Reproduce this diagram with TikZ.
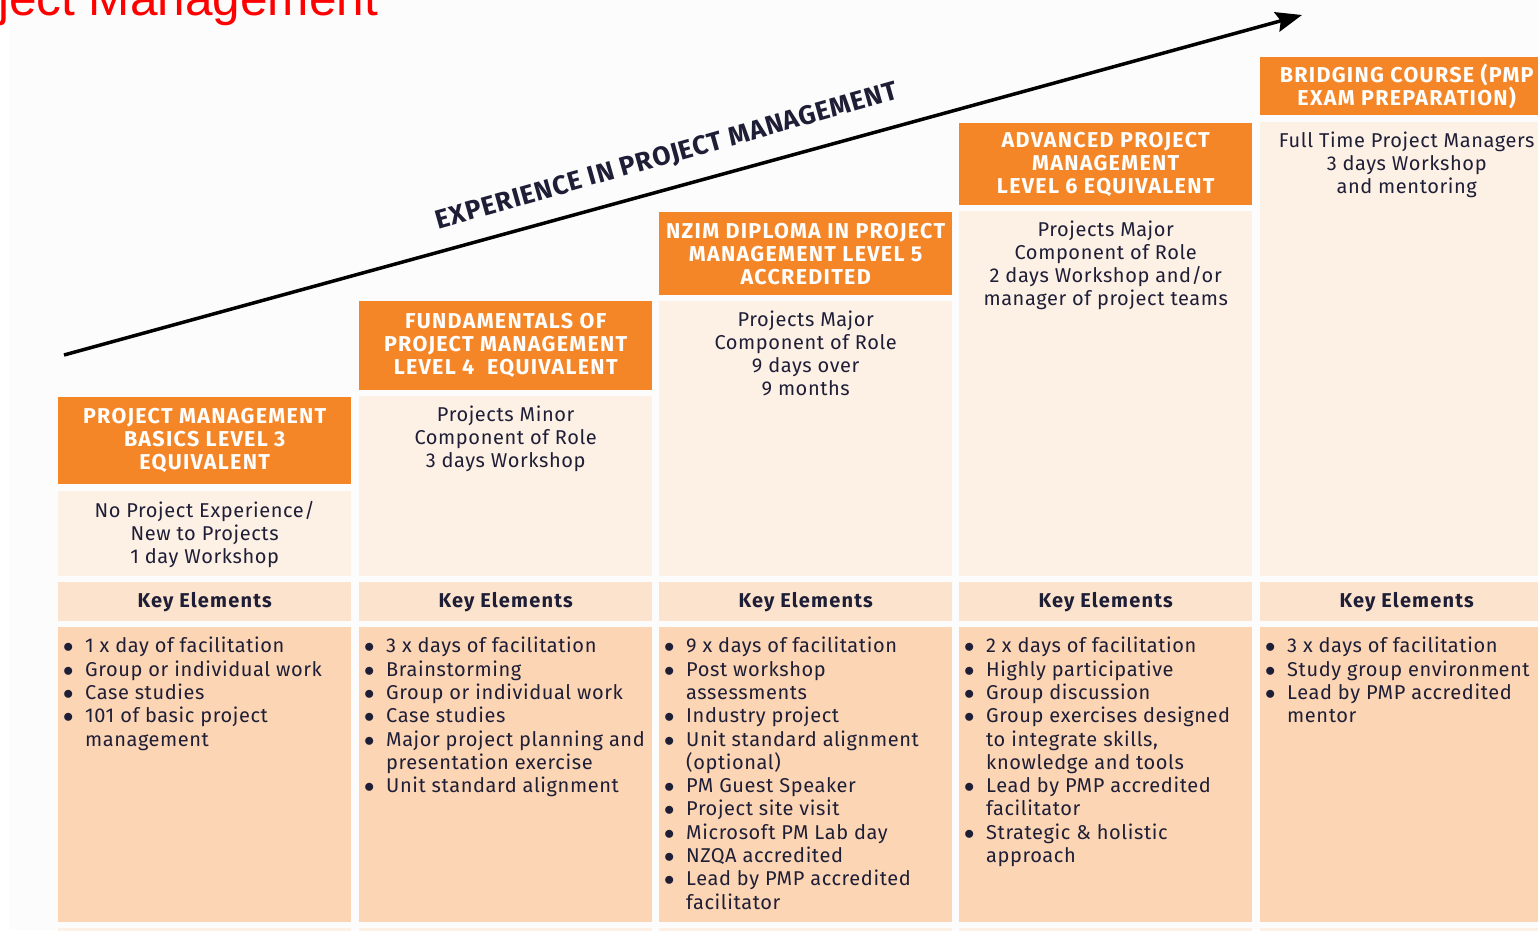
\documentclass[tikz,border=0pt]{standalone}
\usepackage{fontspec}
\setmainfont{Fira Sans}[LetterSpace=3]
\newfontfamily\widefont{Fira Sans}[LetterSpace=6]
\newfontfamily\titlefont{Liberation Sans}
\usetikzlibrary{arrows.meta}

\definecolor{headorange}{RGB}{245,134,40}
\definecolor{summarypeach}{RGB}{253,240,229}
\definecolor{keypeach}{RGB}{252,227,205}
\definecolor{itempeach}{RGB}{252,213,180}
\definecolor{inkblue}{RGB}{30,30,55}
\definecolor{pagegray}{RGB}{252,252,252}

\newcommand{\itm}[1]{\makebox[22pt][l]{$\bullet$}#1}
\newcommand{\cnt}[1]{\hspace*{22pt}#1}

\begin{document}
\begin{tikzpicture}[x=1pt, y=-1pt,
    heading/.style ={rectangle, fill=headorange, text=white, font=\widefont\fontsize{21.5}{23}\selectfont\bfseries, align=center, inner sep=0pt, minimum width=293pt, anchor=north west},
    summary/.style ={rectangle, fill=summarypeach, inner sep=0pt, minimum width=293pt, anchor=north west},
    summarytext/.style ={text=inkblue, font=\fontsize{20}{23}\selectfont, align=center, inner sep=0pt, anchor=north},
    keyband/.style ={rectangle, fill=keypeach, text=inkblue, font=\widefont\fontsize{20}{23}\selectfont\bfseries, inner sep=0pt, minimum width=293pt, minimum height=39pt, anchor=north west},
    itembox/.style ={rectangle, fill=itempeach, inner sep=0pt, minimum width=293pt, minimum height=295pt, anchor=north west},
    itemtext/.style ={text=inkblue, font=\fontsize{20}{23.3}\selectfont, align=left, inner sep=0pt, anchor=north west}]
   \useasboundingbox (0,0) rectangle (1538,930);
   \fill[pagegray] (9,0) rectangle (1538,930);

   \node[text=red, font=\titlefont\fontsize{49.5}{52}\selectfont, inner sep=0pt, anchor=base west] (title) at (-2,15) {ject Management};

   % level 3
   \node[heading, minimum height=87pt] (h1) at (58,397) {PROJECT MANAGEMENT\\BASICS LEVEL 3\\EQUIVALENT};
   \node[summary, minimum height=85pt] (s1) at (58,491) {};
   \node[summarytext] (t1) at ([yshift=-10pt]s1.north) {No Project Experience/\\New to Projects\\1 day Workshop};
   \node[keyband] (k1) at (58,582) {Key Elements};
   \node[itembox] (b1) at (58,627) {};
   \node[itemtext] (l1) at ([xshift=5pt,yshift=-10pt]b1.north west) {\itm{1 x day of facilitation}\\\itm{Group or individual work}\\\itm{Case studies}\\\itm{101 of basic project}\\\cnt{management}};

   % level 4
   \node[heading, minimum height=89pt] (h2) at (359,301) {FUNDAMENTALS OF\\PROJECT MANAGEMENT\\LEVEL 4~ EQUIVALENT};
   \node[summary, minimum height=180pt] (s2) at (359,396) {};
   \node[summarytext] (t2) at ([yshift=-10pt]s2.north) {Projects Minor\\Component of Role\\3 days Workshop};
   \node[keyband] (k2) at (359,582) {Key Elements};
   \node[itembox] (b2) at (359,627) {};
   \node[itemtext] (l2) at ([xshift=5pt,yshift=-10pt]b2.north west) {\itm{3 x days of facilitation}\\\itm{Brainstorming}\\\itm{Group or individual work}\\\itm{Case studies}\\\itm{Major project planning and}\\\cnt{presentation exercise}\\\itm{Unit standard alignment}};

   % level 5
   \node[heading, minimum height=83pt] (h3) at (659,212) {NZIM DIPLOMA IN PROJECT\\MANAGEMENT LEVEL 5\\ACCREDITED};
   \node[summary, minimum height=275pt] (s3) at (659,301) {};
   \node[summarytext] (t3) at ([yshift=-10pt]s3.north) {Projects Major\\Component of Role\\9 days over\\9 months};
   \node[keyband] (k3) at (659,582) {Key Elements};
   \node[itembox] (b3) at (659,627) {};
   \node[itemtext] (l3) at ([xshift=5pt,yshift=-10pt]b3.north west) {\itm{9 x days of facilitation}\\\itm{Post workshop}\\\cnt{assessments}\\\itm{Industry project}\\\itm{Unit standard alignment}\\\cnt{(optional)}\\\itm{PM Guest Speaker}\\\itm{Project site visit}\\\itm{Microsoft PM Lab day}\\\itm{NZQA accredited}\\\itm{Lead by PMP accredited}\\\cnt{facilitator}};

   % level 6
   \node[heading, minimum height=82pt] (h4) at (959,123) {ADVANCED PROJECT\\MANAGEMENT\\LEVEL 6 EQUIVALENT};
   \node[summary, minimum height=365pt] (s4) at (959,211) {};
   \node[summarytext] (t4) at ([yshift=-10pt]s4.north) {Projects Major\\Component of Role\\2 days Workshop and/or\\manager of project teams};
   \node[keyband] (k4) at (959,582) {Key Elements};
   \node[itembox] (b4) at (959,627) {};
   \node[itemtext] (l4) at ([xshift=5pt,yshift=-10pt]b4.north west) {\itm{2 x days of facilitation}\\\itm{Highly participative}\\\itm{Group discussion}\\\itm{Group exercises designed}\\\cnt{to integrate skills,}\\\cnt{knowledge and tools}\\\itm{Lead by PMP accredited}\\\cnt{facilitator}\\\itm{Strategic \& holistic}\\\cnt{approach}};

   % bridging course
   \node[heading, minimum height=58pt] (h5) at (1260,57) {BRIDGING COURSE (PMP\\EXAM PREPARATION)};
   \node[summary, minimum height=454pt] (s5) at (1260,122) {};
   \node[summarytext] (t5) at ([yshift=-10pt]s5.north) {Full Time Project Managers\\3 days Workshop\\and mentoring};
   \node[keyband] (k5) at (1260,582) {Key Elements};
   \node[itembox] (b5) at (1260,627) {};
   \node[itemtext] (l5) at ([xshift=5pt,yshift=-10pt]b5.north west) {\itm{3 x days of facilitation}\\\itm{Study group environment}\\\itm{Lead by PMP accredited}\\\cnt{mentor}};

   \foreach \x in {58,359,659,959,1260}
      \fill[summarypeach] (\x,928) rectangle ++(293,6);

   % experience arrow
   \coordinate (rise) at (64,355);
   \coordinate (peak) at (1302,15);
   \draw[line width=3.5pt, -{Stealth[length=26pt,width=20pt,inset=4pt]}] (rise) -- (peak);
   \node[text=inkblue, font=\fontsize{26.5}{28}\selectfont\bfseries, inner sep=0pt, rotate=15.8] (exp) at (667,157) {EXPERIENCE IN PROJECT MANAGEMENT};
\end{tikzpicture}
\end{document}
